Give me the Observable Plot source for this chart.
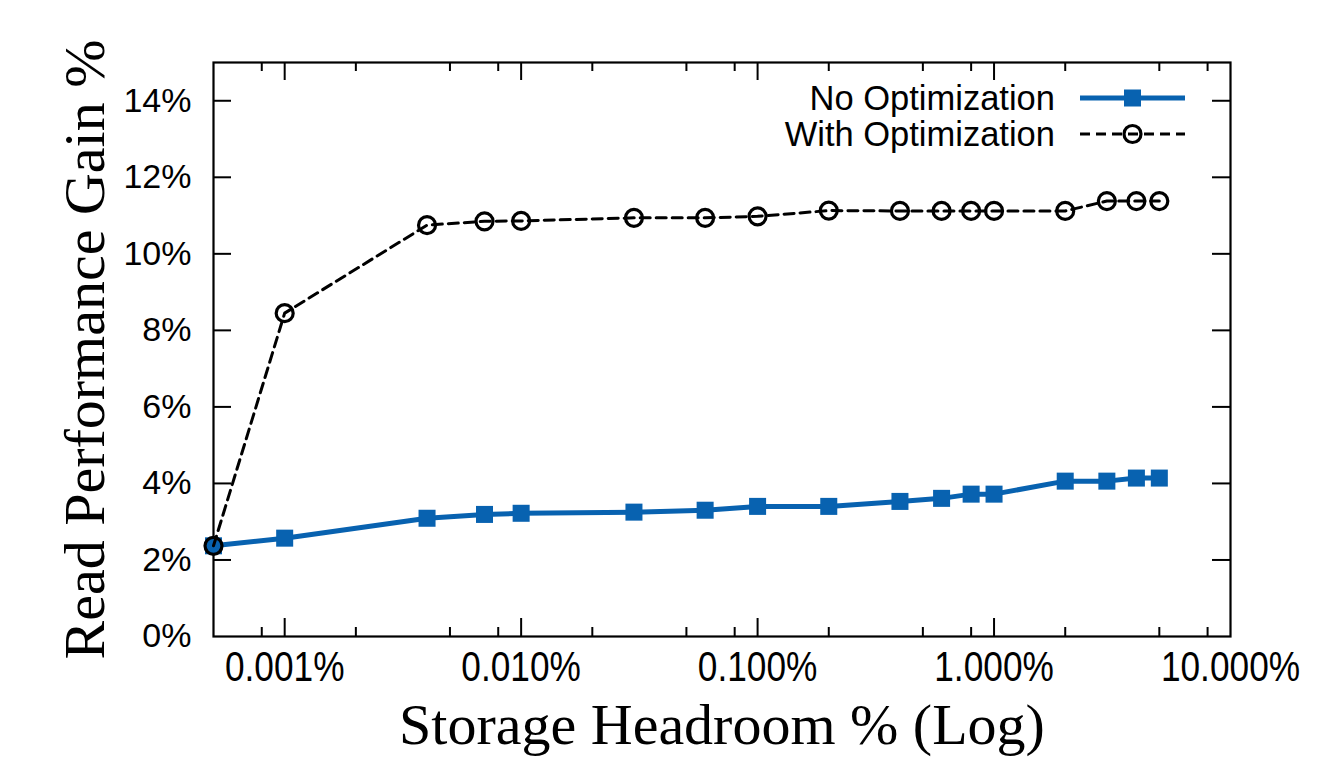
<!DOCTYPE html>
<html>
<head>
<meta charset="utf-8">
<script src="https://cdn.jsdelivr.net/npm/d3@7"></script>
<script src="https://cdn.jsdelivr.net/npm/@observablehq/plot@0.6"></script>
<style>
  html, body { margin: 0; padding: 0; background: #ffffff; }
  #chart { position: relative; width: 1343px; height: 758px; }
</style>
</head>
<body>
<div id="chart"></div>
<script>
// ---- Data ----
const headroom = [0.0005, 0.001, 0.004, 0.007, 0.01, 0.03, 0.06, 0.1, 0.2, 0.4, 0.6, 0.8, 1, 2, 3, 4, 5];
const noOptimization = [2.37, 2.57, 3.09, 3.19, 3.22, 3.25, 3.30, 3.40, 3.40, 3.53, 3.61, 3.72, 3.72, 4.06, 4.06, 4.14, 4.14];
const withOptimization = [2.37, 8.45, 10.75, 10.85, 10.86, 10.94, 10.94, 10.98, 11.13, 11.12, 11.12, 11.12, 11.12, 11.12, 11.38, 11.38, 11.38];
const seriesNames = ["No Optimization", "With Optimization"];
const xTicks = [0.001, 0.01, 0.1, 1, 10];
const xTickLabels = ["0.001%", "0.010%", "0.100%", "1.000%", "10.000%"];
const xMinorTicks = [0.0008, 0.002, 0.005, 0.008, 0.02, 0.05, 0.08, 0.2, 0.5, 0.8, 2, 5, 8];
const yTicks = [0, 2, 4, 6, 8, 10, 12, 14];
const xTitle = "Storage Headroom % (Log)";
const yTitle = "Read Performance Gain %";

// ---- Build tables ----
const rowsNo = headroom.map((h, i) => ({h, v: noOptimization[i]}));
const rowsWith = headroom.map((h, i) => ({h, v: withOptimization[i]}));

const W = 1343, H = 758;
const mL = 213, mR = 113, mT = 62, mB = 122;
const innerH = H - mT - mB;
const innerW = W - mL - mR;
const majorLen = 18, minorLen = 9;
const blue = "#0862b0";
const serif = "'Liberation Serif', 'Times New Roman', serif";
const sans = "'Liberation Sans', Arial, Helvetica, sans-serif";

const chart = Plot.plot({
  width: W,
  height: H,
  marginLeft: mL,
  marginRight: mR,
  marginTop: mT,
  marginBottom: mB,
  style: {background: "#ffffff", fontFamily: sans, color: "#000"},
  x: {type: "log", domain: [0.0005, 10]},
  y: {domain: [0, 15]},
  marks: [
    // inward major ticks, all four sides
    Plot.ruleX(xTicks.filter(d => d < 10), {x: d => d, insetTop: innerH - majorLen, stroke: "#000", strokeWidth: 2}),
    Plot.ruleX(xTicks.filter(d => d < 10), {x: d => d, insetBottom: innerH - majorLen, stroke: "#000", strokeWidth: 2}),
    Plot.ruleX(xMinorTicks, {x: d => d, insetTop: innerH - minorLen, stroke: "#000", strokeWidth: 2}),
    Plot.ruleX(xMinorTicks, {x: d => d, insetBottom: innerH - minorLen, stroke: "#000", strokeWidth: 2}),
    Plot.ruleY(yTicks.filter(d => d > 0), {y: d => d, insetRight: innerW - majorLen, stroke: "#000", strokeWidth: 2}),
    Plot.ruleY(yTicks.filter(d => d > 0), {y: d => d, insetLeft: innerW - majorLen, stroke: "#000", strokeWidth: 2}),
    Plot.frame({stroke: "#000", strokeWidth: 2.2}),
    // tick labels
    Plot.axisY(yTicks, {
      tickSize: 0, tickPadding: 22, tickFormat: d => d + "%",
      fontSize: 34, fontFamily: sans, label: null
    }),
    Plot.axisX(xTicks, {
      tickSize: 0, tickPadding: 15, tickFormat: d => xTickLabels[xTicks.indexOf(d)],
      fontSize: 42, fontFamily: sans, label: null
    }),
    // axis titles
    Plot.text([xTitle], {frameAnchor: "bottom", dy: 107, fontSize: 58, fontFamily: serif, fill: "#000"}),
    Plot.text([yTitle], {frameAnchor: "left", textAnchor: "middle", rotate: -90, dx: -128, fontSize: 58, fontFamily: serif, fill: "#000"}),
    // series
    Plot.line(rowsNo, {x: "h", y: "v", stroke: blue, strokeWidth: 5}),
    Plot.dot(rowsNo, {x: "h", y: "v", symbol: "square", r: 9.6, fill: blue, stroke: "none"}),
    Plot.line(rowsWith, {x: "h", y: "v", stroke: "#000", strokeWidth: 3, strokeDasharray: "10,6"}),
    Plot.dot(rowsWith, {x: "h", y: "v", symbol: "circle", r: 8.5, fill: "none", stroke: "#000", strokeWidth: 3.2})
  ]
});

document.getElementById("chart").appendChild(chart);

// Narrow (condensed) look of the x tick labels, as in the reference
d3.select(chart).selectAll('g[aria-label="x-axis tick label"] text').each(function() {
  const t = this.getAttribute("transform") || "";
  this.setAttribute("transform", t + " scale(0.84,1)");
});

// ---- Legend (inside the plot, top right) ----
const svg = d3.select(chart);
const lg = svg.append("g").attr("class", "legend");
const legendTextRight = 1055, sampleX1 = 1080, sampleX2 = 1185, rowY0 = 98, rowGap = 36;
seriesNames.forEach((name, i) => {
  const y = rowY0 + i * rowGap;
  lg.append("text")
    .attr("x", legendTextRight).attr("y", y)
    .attr("dy", "0.35em")
    .attr("text-anchor", "end")
    .attr("font-family", sans)
    .attr("font-size", 34.5)
    .attr("fill", "#000")
    .text(name);
  const mid = (sampleX1 + sampleX2) / 2;
  if (i === 0) {
    lg.append("line").attr("x1", sampleX1).attr("x2", sampleX2).attr("y1", y).attr("y2", y)
      .attr("stroke", blue).attr("stroke-width", 5);
    lg.append("rect").attr("x", mid - 8.5).attr("y", y - 8.5).attr("width", 17).attr("height", 17).attr("fill", blue);
  } else {
    lg.append("line").attr("x1", sampleX1).attr("x2", sampleX2).attr("y1", y).attr("y2", y)
      .attr("stroke", "#000").attr("stroke-width", 3).attr("stroke-dasharray", "10,6");
    lg.append("circle").attr("cx", mid).attr("cy", y).attr("r", 8.5)
      .attr("fill", "none").attr("stroke", "#000").attr("stroke-width", 3.2);
  }
});
</script>
</body>
</html>
